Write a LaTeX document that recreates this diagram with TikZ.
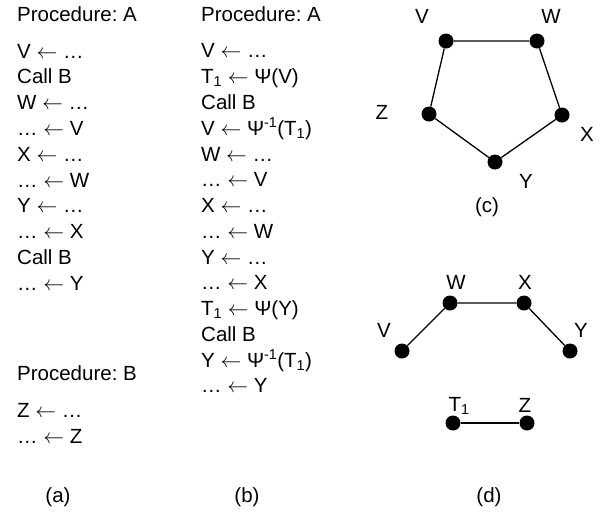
\documentclass[tikz,border=0pt]{standalone}
\usepackage{fontspec}
\setmainfont{Liberation Sans}
\frenchspacing
\newcommand{\la}{$\leftarrow$}

\begin{document}
\begin{tikzpicture}[x=1pt, y=-1pt,
  txt/.style = {anchor=base west, inner sep=0pt, font=\fontsize{20.5}{24}\selectfont},
  lbl/.style = {inner sep=0pt, font=\fontsize{20.5}{24}\selectfont},
  vtx/.style = {circle, fill=black, inner sep=0pt, minimum size=15pt},
  edge/.style = {line width=1.3pt}]
  \useasboundingbox (0,0) rectangle (605,515);

  % (a) the plain procedures
  \node[txt] (aA) at (17,21) {Procedure: A};
  \foreach \s [count=\i] in {V \la{} …, Call B, W \la{} …, … \la{} V, X \la{} …,
      … \la{} W, Y \la{} …, … \la{} X, Call B, … \la{} Y}
    \node[txt] (a\i) at (17,{32.2+25.8*\i}) {\s};
  \node[txt] (aB) at (17,380) {Procedure: B};
  \node[txt] (aB1) at (17,417) {Z \la{} …};
  \node[txt] (aB2) at (17,443) {… \la{} Z};
  \node[lbl] (capa) at (58,497) {(a)};

  % (b) procedure A with the saves and restores
  \node[txt] (bA) at (201,21) {Procedure: A};
  \foreach \s [count=\i] in {V \la{} …, T\textsubscript{1} \la{} Ψ(V), Call B,
      V \la{} Ψ\textsuperscript{-1}(T\textsubscript{1}), W \la{} …, … \la{} V, X \la{} …,
      … \la{} W, Y \la{} …, … \la{} X, T\textsubscript{1} \la{} Ψ(Y), Call B,
      Y \la{} Ψ\textsuperscript{-1}(T\textsubscript{1}), … \la{} Y}
    \node[txt] (b\i) at (201,{32.2+25.77*\i}) {\s};
  \node[lbl] (capb) at (247,497) {(b)};

  % (c) interference graph before
  \node[vtx] (cV) at (446,41) {};
  \node[vtx] (cW) at (537,41) {};
  \node[vtx] (cX) at (562,115) {};
  \node[vtx] (cY) at (495,162) {};
  \node[vtx] (cZ) at (429,114) {};
  \draw[edge] (cV) -- (cW) -- (cX) -- (cY) -- (cZ) -- (cV);
  \node[lbl] (cVl) at (422,16) {V};
  \node[lbl] (cWl) at (551,16) {W};
  \node[lbl] (cXl) at (587,134) {X};
  \node[lbl] (cYl) at (526,181) {Y};
  \node[lbl] (cZl) at (382,112) {Z};
  \node[lbl] (capc) at (487,207) {(c)};

  % (d) interference graph after
  \node[vtx] (dV) at (402,351) {};
  \node[vtx] (dW) at (450,303) {};
  \node[vtx] (dX) at (524,303) {};
  \node[vtx] (dY) at (570,351) {};
  \node[vtx] (dT) at (453,423) {};
  \node[vtx] (dZ) at (527,423) {};
  \draw[edge] (dV) -- (dW) -- (dX) -- (dY);
  \draw[edge] (dT) -- (dZ);
  \node[lbl] (dVl) at (384,330) {V};
  \node[lbl] (dWl) at (456,282) {W};
  \node[lbl] (dXl) at (525,282) {X};
  \node[lbl] (dYl) at (581,330) {Y};
  \node[lbl] (dTl) at (459,406) {T\textsubscript{1}};
  \node[lbl] (dZl) at (525,405) {Z};
  \node[lbl] (capd) at (489,497) {(d)};
\end{tikzpicture}
\end{document}
